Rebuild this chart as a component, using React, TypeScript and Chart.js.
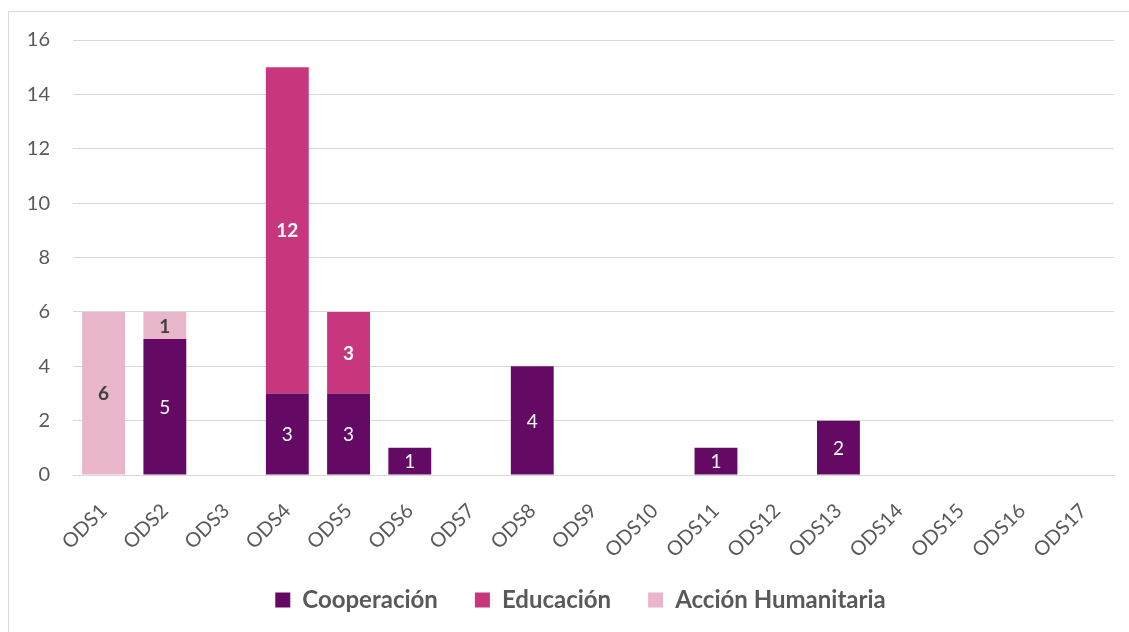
import React, { useEffect, useRef } from "react";
import { Chart, registerables } from "chart.js";

Chart.register(...registerables);

const categories = ["ODS1","ODS2","ODS3","ODS4","ODS5","ODS6","ODS7","ODS8","ODS9","ODS10","ODS11","ODS12","ODS13","ODS14","ODS15","ODS16","ODS17"];
const cooperacion = [0,5,0,3,3,1,0,4,0,0,1,0,2,0,0,0,0];
const educacion = [0,0,0,12,3,0,0,0,0,0,0,0,0,0,0,0,0];
const accionHumanitaria = [6,1,0,0,0,0,0,0,0,0,0,0,0,0,0,0,0];
const seriesNames = ["Cooperación","Educación","Acción Humanitaria"];
const yTicks = [0,2,4,6,8,10,12,14,16];

const FONT = "Lato, 'Open Sans', sans-serif";

const labelStyles = [
  { color: "#ffffff", weight: "normal" },
  { color: "#ffffff", weight: "bold" },
  { color: "#404040", weight: "bold" },
];

const dataLabelPlugin = {
  id: "segLabels",
  afterDatasetsDraw(chart: any) {
    const ctx = chart.ctx;
    chart.data.datasets.forEach((ds: any, di: number) => {
      const meta = chart.getDatasetMeta(di);
      if (meta.hidden) return;
      meta.data.forEach((el: any, i: number) => {
        const v = ds.data[i];
        if (!v) return;
        const st = labelStyles[di];
        ctx.save();
        ctx.fillStyle = st.color;
        ctx.font = `${st.weight} 19px ${FONT}`;
        ctx.textAlign = "center";
        ctx.textBaseline = "middle";
        ctx.fillText(String(v), el.x, (el.y + el.base) / 2 + 1);
        ctx.restore();
      });
    });
  },
};

// shifts the legend box so it sits where the reference legend sits
const legendShiftPlugin = {
  id: "legendShift",
  afterLayout(chart: any) {
    const lg = chart.legend;
    if (!lg) return;
    lg.left += 19;
    lg.right += 19;
    lg.top -= 10;
    lg.bottom -= 10;
  },
};

export default function App() {
  const ref = useRef<HTMLCanvasElement>(null);
  useEffect(() => {
    if (!ref.current) return;
    const chart = new Chart(ref.current, {
      type: "bar",
      data: {
        labels: categories,
        datasets: [
          { label: seriesNames[0], data: cooperacion, backgroundColor: "#650A64" },
          { label: seriesNames[1], data: educacion, backgroundColor: "#C8377D" },
          { label: seriesNames[2], data: accionHumanitaria, backgroundColor: "#E9B5CB" },
        ],
      },
      options: {
        responsive: false,
        animation: false,
        layout: { padding: { top: 28, right: 15, left: 0, bottom: 0 } },
        datasets: { bar: { barPercentage: 0.7, categoryPercentage: 1 } },
        plugins: {
          tooltip: { enabled: false },
          legend: {
            position: "bottom",
            labels: {
              color: "#595959",
              font: { family: FONT, size: 24, weight: "bold" },
              boxWidth: 15,
              boxHeight: 15,
              padding: 37,
            },
          },
        },
        scales: {
          x: {
            stacked: true,
            grid: { display: false, drawTicks: false },
            border: { color: "#d9d9d9", width: 1 },
            ticks: {
              color: "#595959",
              font: { family: FONT, size: 20 },
              maxRotation: 45,
              minRotation: 45,
              padding: 24,
              labelOffset: 0,
            },
            afterFit(scale: any) { scale.height = 86; },
          },
          y: {
            stacked: true,
            min: 0,
            max: 16,
            afterBuildTicks(scale: any) { scale.ticks = yTicks.map((v) => ({ value: v })); },
            grid: { color: "#d9d9d9", lineWidth: 1, drawTicks: true, tickLength: 23, tickColor: "rgba(0,0,0,0)" },
            border: { display: false },
            ticks: {
              color: "#595959",
              font: { family: FONT, size: 20 },
              padding: 0,
            },
            afterFit(scale: any) { scale.width = 64; },
          },
        },
      },
      plugins: [dataLabelPlugin, legendShiftPlugin],
    });
    return () => chart.destroy();
  }, []);
  return (
    <div style={{ position: "absolute", left: 0, top: 0, width: 1129, height: 632, overflow: "hidden", background: "#fff" }}>
      <div style={{ position: "absolute", left: 8, top: 11, borderTop: "1px solid #d9d9d9", borderLeft: "1px solid #d9d9d9", width: 1200, height: 700 }}>
        <canvas ref={ref} width={1120} height={620} style={{ display: "block" }} />
      </div>
    </div>
  );
}
